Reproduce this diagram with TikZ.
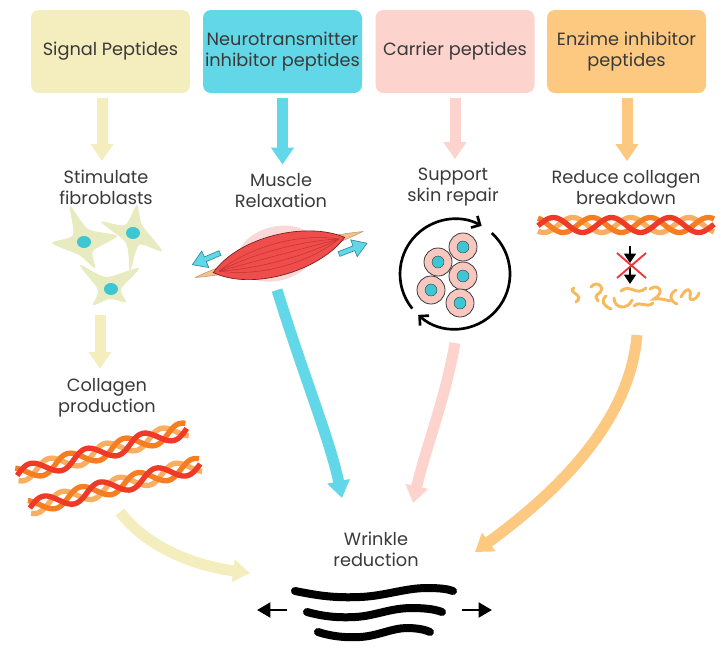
\documentclass[tikz,border=0pt]{standalone}
\usepackage{fontspec}
\setmainfont{Poppins}
\usetikzlibrary{arrows.meta,calc,positioning}
\definecolor{txt}{HTML}{3A3A3A}
\definecolor{sigc}{HTML}{F4EDBD}
\definecolor{cyn}{HTML}{62D7E7}
\definecolor{cynd}{HTML}{2F8E9C}
\definecolor{pnk}{HTML}{FDD3CE}
\definecolor{org}{HTML}{FDC880}
\definecolor{cellc}{HTML}{E8EBBF}
\definecolor{nuc}{HTML}{3EC6D2}
\definecolor{tend}{HTML}{F6C08C}
\definecolor{musr}{HTML}{EE4D4C}
\definecolor{musd}{HTML}{C43232}
\definecolor{halo}{HTML}{F9D8D8}
\definecolor{colr}{HTML}{EE3A26}
\definecolor{colo}{HTML}{F57E22}
\definecolor{coll}{HTML}{F9AE62}
\definecolor{frag}{HTML}{F7B95E}
\definecolor{skinc}{HTML}{F8C7BF}
\definecolor{xred}{HTML}{E8383A}

\begin{document}
\begin{tikzpicture}[x=0.75pt,y=-0.75pt]
	\tikzset{kind/.style={rounded corners=6pt, minimum width=119.25pt, minimum height=62.25pt, inner sep=0pt, align=center, text=txt, font=\fontsize{13.3}{15.75}\selectfont},
		say/.style={inner sep=0pt, align=center, text=txt, font=\fontsize{13.3}{15.75}\selectfont},
		flow/.style={line width=8.25pt, -{Triangle[width=16.5pt,length=12.75pt]}},
		strand/.style={line width=4pt},
		crease/.style={line width=6pt, line cap=round},
		blk/.style={black, line width=2.2pt, -{Triangle[width=11pt,length=10pt]}},
		fiber/.pic={\foreach \p/\c in {240/coll,120/colo,0/colr}
			\draw[strand,\c] plot[domain=-88:88,samples=80,smooth] (\x,{7.5*sin(\x*6.2+\p)});},
		pull/.pic={\filldraw[fill=cyn,draw=cynd,line width=.5pt] (0,-2.5) -- (16,-2.5) -- (16,-9) -- (30,0) -- (16,9) -- (16,2.5) -- (0,2.5) -- cycle;},
		skin/.pic={\filldraw[fill=skinc,draw=txt,line width=.6pt] (0,0) circle (10.5pt);
			\filldraw[fill=nuc,draw=txt,line width=.3pt] (0,0) circle (4.5pt);}}
	\useasboundingbox (0,0) rectangle (728,658);
	% peptide classes
	\path
	(110.5,51.5) node[kind,fill=sigc](sig){Signal Peptides}
	(282.5,51.5) node[kind,fill=cyn](neu){Neurotransmitter\\inhibitor peptides}
	(455,51.5) node[kind,fill=pnk](car){Carrier peptides}
	(626.5,51.5) node[kind,fill=org](enz){Enzime inhibitor\\peptides};
	% effects
	\path
	(106,187.5) node[say](stim){Stimulate\\fibroblasts}
	(281,191) node[say](relax){Muscle\\Relaxation}
	(453,187.5) node[say](rep){Support\\skin repair}
	(626,187.5) node[say](red){Reduce collagen\\breakdown}
	(107,397.5) node[say](colp){Collagen\\production}
	(376,549) node[say](wr){Wrinkle\\reduction};
	\draw[flow,sigc] ([shift={(-8.5,5)}]sig.south) -- ([shift={(-4,-9)}]stim.north);
	\draw[flow,cyn] ([shift={(0,5)}]neu.south) -- ([shift={(1.5,-9)}]relax.north);
	\draw[flow,pnk] ([shift={(0,5)}]car.south) -- ([shift={(2,-9)}]rep.north);
	\draw[flow,org] ([shift={(0.5,5)}]enz.south) -- ([shift={(1,-9)}]red.north);
	% fibroblasts
	\coordinate (fib) at (108,255);
	\fill[cellc] plot[smooth cycle,tension=.45] coordinates {(70,206) (88,229) (117,236) (93,251) (95,268) (79,255) (52,243) (73,235)};
	\fill[cellc] plot[smooth cycle,tension=.45] coordinates {(137,205) (142,225) (162,251) (139,245) (130,271) (126,243) (101,222) (125,225)};
	\fill[cellc] plot[smooth cycle,tension=.45] coordinates {(80,265) (106,277) (139,268) (121,289) (126,302) (110,299) (93,305) (98,290)};
	\fill[nuc] (84,242) ellipse [x radius=7,y radius=6] (133,233) ellipse [x radius=7,y radius=6] (111,289) ellipse [x radius=7,y radius=6];
	\draw[flow,sigc] ([shift={(-8,60)}]fib) -- ([shift={(-7,-9)}]colp.north);
	% collagen
	\coordinate (col) at (108,469);
	\path (102,452) pic[rotate=15]{fiber} (115,486) pic[rotate=14]{fiber};
	% muscle
	\coordinate (mus) at (279,255);
	\begin{scope}[shift={(mus)},rotate=15]
		\fill[halo] (-2,-2) ellipse [x radius=40,y radius=27];
		\filldraw[fill=tend,draw=tend!70!black,line width=.3pt] (-87,0) .. controls (-40,-9) and (40,-9) .. (87,-1) .. controls (40,9) and (-40,9) .. cycle;
		\filldraw[fill=musr,draw=musd!60!black,line width=.5pt] (-68,0) .. controls (-35,-28) and (35,-26) .. (68,0) .. controls (35,26) and (-35,28) .. cycle;
		\foreach \k in {-16,-8,0,8,16}
		\draw[musd,line width=.4pt] (-62,0) .. controls (-25,\k) and (25,\k) .. (62,0);
	\end{scope}
	\path ([shift={(-59,-2)}]mus) pic[rotate=203]{pull} ([shift={(60,-1)}]mus) pic[rotate=21]{pull};
	% skin repair
	\coordinate (rep-c) at (455,274);
	\path (438,262) pic{skin} (463,247) pic{skin} (463,276) pic{skin} (431,290) pic{skin} (460,303) pic{skin};
	\draw[line width=2pt,-{Straight Barb[length=5pt,width=10pt]}] (rep-c) ++(219:41.25pt) arc[start angle=219,end angle=61,radius=41.25pt];
	\draw[line width=2pt,-{Straight Barb[length=5pt,width=10pt]}] (rep-c) ++(48:41.25pt) arc[start angle=48,end angle=-132,radius=41.25pt];
	% collagen breakdown
	\coordinate (brk) at (634,297);
	\path (626,225) pic{fiber};
	\draw[black,line width=.8pt,-{Triangle[width=9pt,length=7pt]}] (630,246) -- (630,263);
	\draw[black,line width=.8pt,-{Triangle[width=9pt,length=7pt]}] (630,266) -- (630,284);
	\draw[xred,line width=1.4pt] (617,253) -- (646,278) (646,253) -- (617,278);
	\draw[frag,line width=2.2pt,line cap=round]
	(574,288) .. controls (566,292) and (586,295) .. (576,302)
	(591,287) .. controls (597,279) and (607,289) .. (598,294) .. controls (595,296) and (596,299) .. (598,301)
	(606,296) .. controls (600,301) and (604,306) .. (611,309)
	(614,298) .. controls (614,309) and (628,310) .. (632,300)
	(621,291) .. controls (630,283) and (636,297) .. (646,288)
	(634,306) .. controls (641,300) and (646,309) .. (653,303)
	(650,289) .. controls (658,283) and (666,292) .. (654,299) .. controls (660,298) and (666,300) .. (670,301)
	(676,290) .. controls (668,295) and (670,301) .. (677,304)
	(681,297) .. controls (686,287) and (692,288) .. (690,296) .. controls (689,302) and (696,301) .. (699,293);
	% to wrinkle reduction
	\draw[flow,cyn] ([shift={(-2,35)}]mus) .. controls +(28,90) and +(-12,-58) .. ([shift={(-34,-51)}]wr.center);
	\draw[flow,pnk] ([shift={(0,69)}]rep-c) .. controls +(-10,57) and +(12,-53) .. ([shift={(37,-46)}]wr.center);
	\draw[flow,org] ([shift={(3,38)}]brk) .. controls +(-7,85) and +(85,-62) .. ([shift={(99,3)}]wr.center);
	\draw[flow,sigc] ([shift={(12,43)}]col) .. controls +(25,33) and +(-60,-8) .. ([shift={(-126,24)}]wr.center);
	% wrinkles
	\coordinate (crease) at (375,610);
	\draw[crease] (295,591) .. controls (320,596) and (335,598) .. (360,597) .. controls (385,596) and (405,588) .. (427,588) .. controls (440,588) and (448,589) .. (453,591);
	\draw[crease] (307,612) .. controls (322,616) and (335,618) .. (355,617) .. controls (375,616) and (390,608) .. (412,608) .. controls (428,608) and (437,610) .. (442,612);
	\draw[crease] (318,632) .. controls (330,636) and (345,638) .. (360,637) .. controls (378,636) and (392,628) .. (407,628) .. controls (418,628) and (426,630) .. (430,632);
	\draw[blk] ([shift={(-88,0)}]crease) -- ([shift={(-118,0)}]crease);
	\draw[blk] ([shift={(87,0)}]crease) -- ([shift={(117,0)}]crease);
\end{tikzpicture}
\end{document}
